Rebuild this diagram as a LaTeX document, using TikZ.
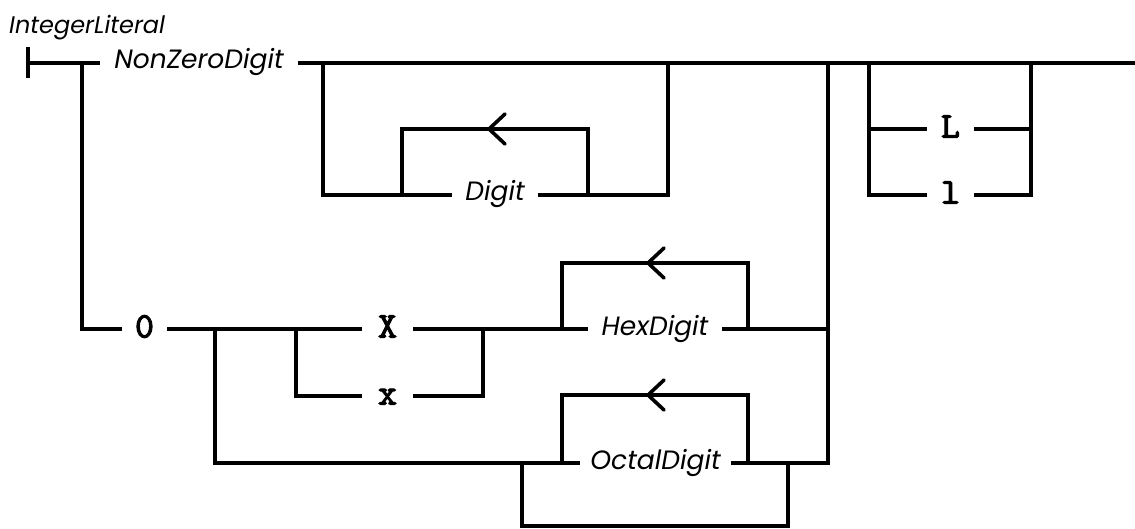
\documentclass[tikz,border=0pt]{standalone}
\usepackage{fontspec}
\newfontfamily\ntfont{Poppins}
\newfontfamily\tmfont{lmmono10-regular.otf}[FakeBold=3]
\begin{document}
\begin{tikzpicture}[x=1pt,y=-1pt,
  rr/.style={line width=3.6pt,line join=miter},
  nt/.style={inner sep=0pt,font=\ntfont\itshape\fontsize{26.5}{26.5}\selectfont,anchor=center,text height=19pt,text depth=7pt},
  tm/.style={inner sep=0pt,font=\tmfont\fontsize{36}{36}\selectfont,anchor=center,text height=21pt,text depth=4pt},
  chev/.style={line width=3.6pt,line join=round,line cap=round}]
\useasboundingbox (0,0) rectangle (1135,529);
\node[inner sep=0pt,anchor=base west,font=\ntfont\itshape\fontsize{24}{24}\selectfont] (title) at (9,34) {IntegerLiteral};
% nodes
\node[nt,minimum width=198pt] (nz) at (199,63) {NonZeroDigit};
\node[nt,minimum width=86pt] (digit) at (495,195) {Digit};
\node[tm,minimum width=47pt] (L) at (950.5,129) {L};
\node[tm,minimum width=47pt] (l) at (950.5,195) {l};
\node[tm,minimum width=45pt] (zero) at (144.5,329) {0};
\node[tm,minimum width=51pt] (X) at (387.5,329) {X};
\node[tm,minimum width=51pt] (x) at (387.5,396) {x};
\node[nt,minimum width=134pt] (hex) at (655,329) {HexDigit};
\node[nt,minimum width=151pt] (oct) at (655.5,463) {OctalDigit};
\coordinate (end) at (1135,63);
% start bar and main line
\draw[rr] (28,47) -- (28,78);
\draw[rr] (28,63) -- (nz.west);
\draw[rr] (nz.east) -- (end);
% digit loop
\draw[rr] (323,63) |- (digit.west);
\draw[rr] (digit.east) -| (668,63);
\draw[rr] (402,195) |- (588,129) -- (588,195);
\draw[chev] (505,114) -- (489,129) -- (505,144);
% L / l
\draw[rr] (869,63) |- (l.west);
\draw[rr] (869,129) -- (L.west);
\draw[rr] (L.east) -- (1031,129);
\draw[rr] (l.east) -| (1031,63);
% zero branch
\draw[rr] (82,63) |- (zero.west);
\draw[rr] (zero.east) -- (X.west);
\draw[rr] (296,329) |- (x.west);
\draw[rr] (x.east) -| (483,329);
\draw[rr] (X.east) -- (hex.west);
\draw[rr] (hex.east) -- (828,329);
\draw[rr] (562,329) |- (748,263) -- (748,329);
\draw[chev] (664,248) -- (648,263) -- (664,278);
% octal
\draw[rr] (215,329) |- (oct.west);
\draw[rr] (oct.east) -| (828,63);
\draw[rr] (562,463) |- (748,395) -- (748,463);
\draw[chev] (664,380) -- (648,395) -- (664,410);
\draw[rr] (522,463) |- (788,526) -- (788,463);
\end{tikzpicture}
\end{document}
